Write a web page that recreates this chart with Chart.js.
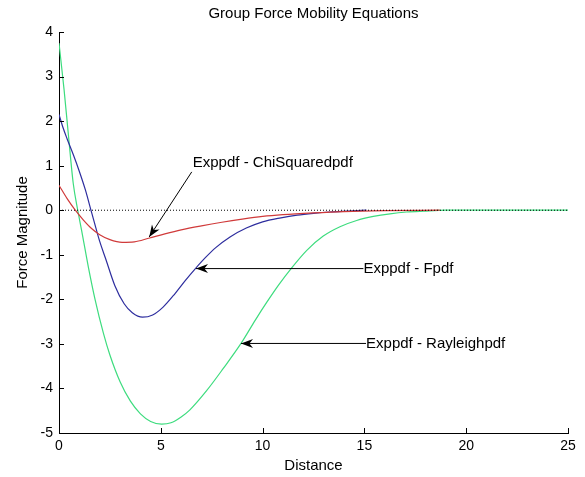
<!DOCTYPE html>
<html><head><meta charset="utf-8">
<script src="https://cdn.jsdelivr.net/npm/chart.js@4.4.1/dist/chart.umd.min.js"></script>
<style>html,body{margin:0;padding:0;background:#fff}#wrap{width:585px;height:477px;position:relative}</style>
</head><body><div id="wrap"><canvas id="c"></canvas></div>
<script>
// ---- data ----
const chiX = [0, 0.4, 0.8, 1.2, 1.6, 2.0, 2.5, 3.1, 3.7, 4.4, 5.2, 6.0, 7.0, 8.0, 9.0, 10.0, 11.0, 12.5, 14.0, 16.0, 18.7];
const chiY = [0.56, 0.26, 0.0, -0.22, -0.41, -0.55, -0.66, -0.72, -0.71, -0.63, -0.53, -0.44, -0.35, -0.27, -0.2, -0.14, -0.1, -0.06, -0.03, -0.01, 0];

const fX = [0, 0.2, 0.4, 0.7, 1.0, 1.3, 1.57, 1.8, 2.0, 2.3, 2.75, 3.2, 3.6, 4.1, 4.6, 5.1, 5.7, 6.2, 6.7, 7.2, 7.7, 8.4, 9.2, 10.0, 10.9, 11.7, 12.5, 13.3, 14.2, 15.1];
const fY = [2.15, 1.85, 1.6, 1.25, 0.87, 0.45, 0.0, -0.38, -0.7, -1.1, -1.7, -2.1, -2.3, -2.4, -2.35, -2.18, -1.87, -1.58, -1.31, -1.06, -0.84, -0.6, -0.4, -0.26, -0.17, -0.11, -0.07, -0.04, -0.02, 0];

const rayX = [0, 0.25, 0.46, 0.7, 0.92, 1.11, 1.44, 1.77, 2.18, 2.5, 3.0, 3.5, 4.0, 4.5, 5.04, 5.5, 6.0, 6.43, 7.25, 8.07, 8.94, 9.65, 10.2, 10.8, 11.4, 12.17, 12.98, 13.8, 14.62, 15.44, 16.26, 17.08, 17.9, 19.0, 25.0];
const rayY = [3.75, 2.7, 1.7, 0.6, 0.0, -0.45, -1.27, -2.0, -2.76, -3.25, -3.85, -4.28, -4.57, -4.74, -4.8, -4.77, -4.64, -4.48, -4.05, -3.55, -2.99, -2.46, -2.07, -1.67, -1.31, -0.9, -0.58, -0.37, -0.23, -0.14, -0.08, -0.04, -0.02, 0, 0];

const zeroX = [0, 25];
const zeroY = [0, 0];

const seriesNames = ['Exppdf - ChiSquaredpdf', 'Exppdf - Fpdf', 'Exppdf - Rayleighpdf'];
const xTicks = [0, 5, 10, 15, 20, 25];
const yTicks = [-5, -4, -3, -2, -1, 0, 1, 2, 3, 4];

// annotation anchors (data coordinates): text start, arrow tail, arrow tip
const annText  = seriesNames;
const annTextX = [6.57, 14.95, 15.08];
const annTextY = [1.06, -1.31, -2.99];
const annTailX = [6.52, 14.95, 15.08];
const annTailY = [0.86, -1.31, -2.99];
const annTipX  = [4.43, 6.73, 8.94];
const annTipY  = [-0.6, -1.31, -2.99];

const toPts = (xs, ys) => xs.map((x, i) => ({x, y: ys[i]}));
const FONT = "'Liberation Sans', Arial, sans-serif";

const inwardTicks = {
  id: 'inwardTicks',
  afterDatasetsDraw(chart) {
    const {ctx, chartArea: a, scales: {x, y}} = chart;
    ctx.save();
    ctx.strokeStyle = '#000';
    ctx.lineWidth = 1;
    ctx.beginPath();
    xTicks.forEach(v => {
      const px = Math.round(x.getPixelForValue(v)) + 0.5;
      ctx.moveTo(px, a.bottom); ctx.lineTo(px, a.bottom - 5);
    });
    yTicks.forEach(v => {
      const py = Math.round(y.getPixelForValue(v)) + 0.5;
      ctx.moveTo(a.left, py); ctx.lineTo(a.left + 5, py);
    });
    ctx.stroke();
    ctx.restore();
  }
};

const arrows = {
  id: 'arrows',
  afterDatasetsDraw(chart) {
    const {ctx, scales: {x, y}} = chart;
    ctx.save();
    ctx.font = '15px ' + FONT;
    ctx.fillStyle = '#000';
    ctx.strokeStyle = '#000';
    ctx.lineWidth = 1;
    ctx.textBaseline = 'middle';
    ctx.textAlign = 'left';
    annText.forEach((t, i) => {
      const tx = x.getPixelForValue(annTextX[i]), ty = y.getPixelForValue(annTextY[i]);
      const ax = x.getPixelForValue(annTailX[i]), ay = y.getPixelForValue(annTailY[i]);
      const bx = x.getPixelForValue(annTipX[i]), by = y.getPixelForValue(annTipY[i]);
      ctx.fillText(t, tx, ty);
      ctx.beginPath();
      ctx.moveTo(ax, ay); ctx.lineTo(bx, by);
      ctx.stroke();
      const dx = ax - bx, dy = ay - by, len = Math.hypot(dx, dy);
      const ux = dx / len, uy = dy / len, nx = -uy, ny = ux;
      const L = 12, W = 4.5;
      ctx.beginPath();
      ctx.moveTo(bx, by);
      ctx.lineTo(bx + ux * L + nx * W, by + uy * L + ny * W);
      ctx.lineTo(bx + ux * L * 0.7, by + uy * L * 0.7);
      ctx.lineTo(bx + ux * L - nx * W, by + uy * L - ny * W);
      ctx.closePath();
      ctx.fill();
    });
    ctx.restore();
  }
};

new Chart(document.getElementById('c'), {
  type: 'scatter',
  data: {
    datasets: [
      {label: 'zero', data: toPts(zeroX, zeroY), showLine: true, borderColor: '#000', borderWidth: 1, borderDash: [1, 2], pointRadius: 0},
      {label: seriesNames[0], data: toPts(chiX, chiY), showLine: true, borderColor: '#d03a3a', borderWidth: 1.2, pointRadius: 0, cubicInterpolationMode: 'monotone'},
      {label: seriesNames[1], data: toPts(fX, fY), showLine: true, borderColor: '#2d2d9e', borderWidth: 1.2, pointRadius: 0, cubicInterpolationMode: 'monotone'},
      {label: seriesNames[2], data: toPts(rayX, rayY), showLine: true, borderColor: '#3ddc7e', borderWidth: 1.2, pointRadius: 0, cubicInterpolationMode: 'monotone'}
    ]
  },
  options: {
    responsive: true,
    maintainAspectRatio: false,
    animation: false,
    layout: {padding: {left: 0, right: 17, top: 0, bottom: 0}},
    plugins: {
      legend: {display: false},
      tooltip: {enabled: false},
      title: {display: true, fullSize: false, text: 'Group Force Mobility Equations', color: '#000',
        font: {family: FONT, size: 15, weight: 'normal'}, padding: {top: 5, bottom: 9}}
    },
    scales: {
      x: {
        type: 'linear', min: 0, max: 25,
        afterBuildTicks: s => { s.ticks = xTicks.map(v => ({value: v})); },
        afterFit: s => { s.height = 44; },
        ticks: {color: '#000', font: {family: FONT, size: 14}, padding: 5, maxRotation: 0},
        grid: {drawOnChartArea: false, drawTicks: false},
        border: {display: true, color: '#000', width: 1},
        title: {display: true, text: 'Distance', color: '#000', font: {family: FONT, size: 15}, padding: {top: 0, bottom: 2}}
      },
      y: {
        type: 'linear', min: -5, max: 4,
        afterBuildTicks: s => { s.ticks = yTicks.map(v => ({value: v})); },
        afterFit: s => { s.width = 59; },
        ticks: {color: '#000', font: {family: FONT, size: 14}, padding: 6},
        grid: {drawOnChartArea: false, drawTicks: false},
        border: {display: true, color: '#000', width: 1},
        title: {display: true, text: 'Force Magnitude', color: '#000', font: {family: FONT, size: 15}, padding: {top: 13.5, bottom: 0}}
      }
    }
  },
  plugins: [inwardTicks, arrows]
});
</script>
</body></html>
